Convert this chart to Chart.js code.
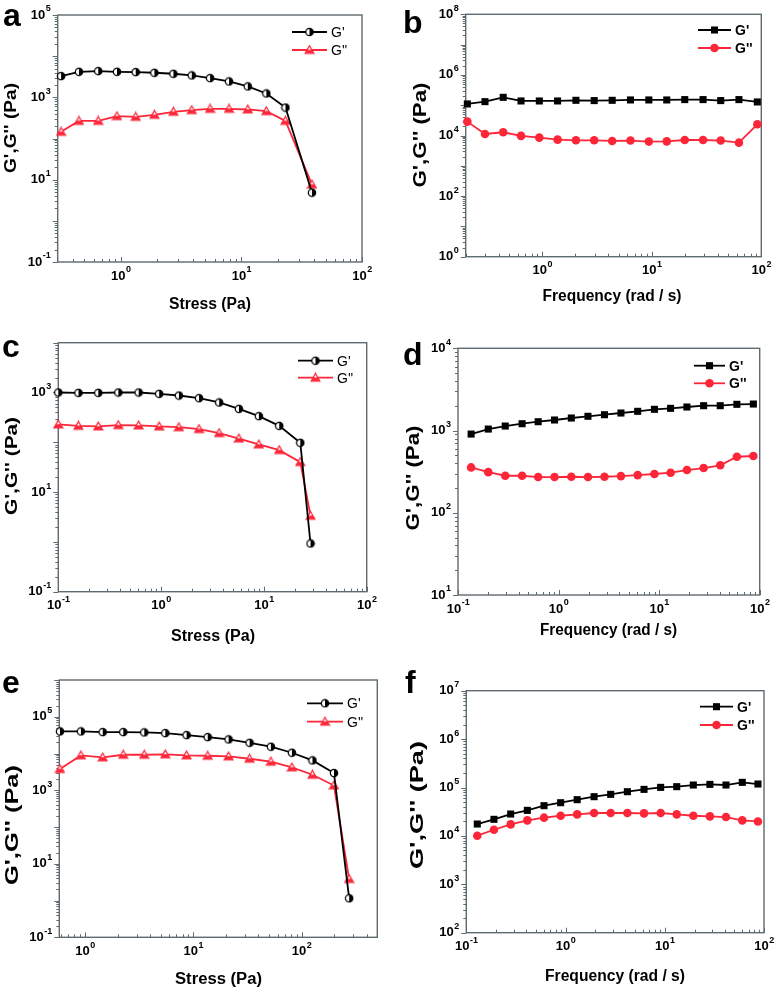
<!DOCTYPE html>
<html>
<head>
<meta charset="utf-8">
<script src="https://cdn.jsdelivr.net/npm/chart.js@4.4.1/dist/chart.umd.min.js"></script>
<style>
  html, body { margin: 0; padding: 0; background: #fff; }
  #page { position: relative; width: 776px; height: 992px; overflow: hidden; background: #fff; }
  #page canvas { position: absolute; }
</style>
</head>
<body>
<div id="page"></div>
<script>
// ---- values ----
// a: stress sweep
const stressA = [0.32, 0.45, 0.65, 0.93, 1.33, 1.9, 2.73, 3.88, 5.5, 7.9, 11.3, 16.1, 23.2, 38.5];
const gpA  = [3280, 4170, 4340, 4170, 4100, 3950, 3740, 3410, 2930, 2430, 1840, 1240, 566, 4.84];
const gppA = [145, 268, 268, 349, 336, 376, 445, 488, 526, 526, 507, 461, 268, 7.6];

// b: frequency sweep
const freqB = [0.207, 0.30, 0.44, 0.64, 0.94, 1.38, 2.03, 2.98, 4.35, 6.39, 9.4, 13.7, 20, 29.4, 42.6, 62.5, 92];
const gpB  = [1.1e5, 1.31e5, 1.82e5, 1.38e5, 1.38e5, 1.38e5, 1.45e5, 1.42e5, 1.45e5, 1.49e5, 1.49e5, 1.49e5, 1.53e5, 1.53e5, 1.42e5, 1.53e5, 1.28e5];
const gppB = [2.87e4, 1.12e4, 1.28e4, 9.7e3, 8.5e3, 7.3e3, 6.95e3, 6.95e3, 6.6e3, 6.8e3, 6.3e3, 6.4e3, 7.1e3, 7.1e3, 6.8e3, 5.8e3, 2.34e4];

// c: stress sweep
const stressC = [0.1, 0.157, 0.245, 0.384, 0.605, 0.957, 1.49, 2.34, 3.67, 5.71, 8.93, 14.1, 22.6, 28.4];
const gpC  = [1000, 985, 985, 1000, 1000, 940, 870, 769, 630, 470, 335, 214, 97.8, 0.93];
const gppC = [228, 214, 208, 221, 218, 208, 201, 184, 153, 119, 90.5, 69.7, 40, 3.35];

// d: frequency sweep
const freqD = [0.135, 0.2, 0.295, 0.434, 0.627, 0.912, 1.34, 1.96, 2.86, 4.17, 6.12, 8.98, 13, 18.9, 27.7, 40.5, 59.3, 86.5];
const gpD  = [906, 1042, 1134, 1210, 1280, 1343, 1420, 1490, 1557, 1633, 1713, 1811, 1862, 1932, 2004, 2004, 2084, 2100];
const gppD = [356, 312, 282, 282, 272, 272, 274, 272, 274, 279, 287, 296, 307, 331, 350, 378, 480, 490];

// e: stress sweep
const stressE = [0.588, 0.918, 1.46, 2.26, 3.53, 5.52, 8.68, 13.6, 21.2, 33.1, 52.1, 81.4, 126, 199, 275];
const gpE  = [39900, 39900, 38300, 38300, 37500, 36000, 31700, 28000, 24200, 19600, 15300, 10500, 6490, 2940, 1.15];
const gppE = [3780, 8880, 7830, 9250, 9250, 9450, 8880, 8690, 8330, 7210, 5980, 4190, 2640, 1350, 3.85];

// f: frequency sweep
const freqF = [0.129, 0.19, 0.28, 0.412, 0.607, 0.893, 1.31, 1.94, 2.85, 4.2, 6.18, 9.09, 13.2, 19.4, 28.5, 41.4, 60.4, 86.9];
const gpF  = [17600, 22000, 28300, 33700, 42100, 48500, 56000, 64600, 72200, 81900, 91500, 100700, 104000, 112500, 116000, 112500, 127700, 118000];
const gppF = [10100, 13400, 17300, 20900, 23800, 26100, 27800, 29700, 29700, 29700, 29200, 29700, 27800, 26100, 25300, 24500, 20900, 19900];

// labelled decades (exponents of 10) on each axis
const xExpA = [0, 1, 2],      yExpA = [-1, 1, 3, 5];
const xExpB = [0, 1, 2],      yExpB = [0, 2, 4, 6, 8];
const xExpC = [-1, 0, 1, 2],  yExpC = [-1, 1, 3];
const xExpD = [-1, 0, 1, 2],  yExpD = [1, 2, 3, 4];
const xExpE = [0, 1, 2],      yExpE = [-1, 1, 3, 5];
const xExpF = [-1, 0, 1, 2],  yExpF = [2, 3, 4, 5, 6, 7];

const seriesNames = ["G'", "G''"];
const stressTitle = 'Stress (Pa)';
const freqTitle = 'Frequency (rad / s)';
const yTitle = "G',G'' (Pa)";

const BLACK = '#000000';
const RED = '#fd2639';
const FRAME = '#5e6a70';
const FONT = '"Liberation Sans", Arial, sans-serif';

Chart.defaults.font.family = FONT;

// half filled circle (G' in stress sweeps)
function halfCircle() {
  const c = document.createElement('canvas');
  c.width = 10; c.height = 10;
  const g = c.getContext('2d');
  g.beginPath(); g.arc(5, 5, 3.7, 0, Math.PI * 2); g.fillStyle = '#fff'; g.fill();
  g.beginPath(); g.arc(5, 5, 3.7, -Math.PI / 2, Math.PI / 2); g.closePath(); g.fillStyle = BLACK; g.fill();
  g.beginPath(); g.arc(5, 5, 3.7, 0, Math.PI * 2); g.lineWidth = 1.2; g.strokeStyle = BLACK; g.stroke();
  return c;
}

// triangle with its lower half filled (G'' in stress sweeps)
function halfTriangle() {
  const c = document.createElement('canvas');
  c.width = 11; c.height = 11;
  const g = c.getContext('2d');
  const tri = () => { g.beginPath(); g.moveTo(5.5, 1.2); g.lineTo(9.8, 8.8); g.lineTo(1.2, 8.8); g.closePath(); };
  tri(); g.fillStyle = '#fff'; g.fill();
  g.save(); g.beginPath(); g.rect(0, 5.3, 11, 6); g.clip();
  tri(); g.fillStyle = RED; g.fill(); g.restore();
  tri(); g.lineWidth = 1.3; g.strokeStyle = RED; g.stroke();
  return c;
}

const circleImg = halfCircle();
const triImg = halfTriangle();

// page geometry of each panel (box = canvas, area = plot frame)
const panels = [
  { letter: 'a', box: [0, 0, 388, 330], area: [57.7, 15, 362, 262], xr: [0.32, 100], yr: [0.1, 1e5],
    xExp: xExpA, yExp: yExpA, x: stressA, g1: gpA, g2: gppA, open: true,
    xTitle: stressTitle, xt: [210, 305, 82], yt: [11.5, 128, 90, 17], lt: [3, 26], lg: [292, 32, 18, 35] },
  { letter: 'b', box: [388, 0, 388, 330], area: [465.7, 14.3, 761.3, 256.7], xr: [0.2, 100], yr: [1, 1e8],
    xExp: xExpB, yExp: yExpB, x: freqB, g1: gpB, g2: gppB, open: false,
    xTitle: freqTitle, xt: [612, 297, 139], yt: [421.5, 135, 105, 18], lt: [403, 33], lg: [698, 30, 18, 33] },
  { letter: 'c', box: [0, 330, 388, 330], area: [58.3, 342.7, 366.7, 591.7], xr: [0.1, 100], yr: [0.1, 1e4],
    xExp: xExpC, yExp: yExpC, x: stressC, g1: gpC, g2: gppC, open: true,
    xTitle: stressTitle, xt: [213, 636.5, 84], yt: [12, 466, 98, 17], lt: [2, 357], lg: [298, 360.7, 17, 35] },
  { letter: 'd', box: [388, 330, 388, 330], area: [458, 348.3, 759.7, 595], xr: [0.1, 100], yr: [10, 1e4],
    xExp: xExpD, yExp: yExpD, x: freqD, g1: gpD, g2: gppD, open: false,
    xTitle: freqTitle, xt: [608.5, 631, 137], yt: [414.5, 478, 105, 18], lt: [403, 365], lg: [694, 365.7, 17.6, 31] },
  { letter: 'e', box: [0, 660, 388, 332], area: [59.3, 680, 377.3, 937.3], xr: [0.58, 500], yr: [0.1, 1e6],
    xExp: xExpE, yExp: yExpE, x: stressE, g1: gpE, g2: gppE, open: true,
    xTitle: stressTitle, xt: [218.5, 980, 87], yt: [12.5, 825, 120, 19], lt: [2, 693], lg: [307, 703.3, 18.4, 36] },
  { letter: 'f', box: [388, 660, 388, 332], area: [466.3, 690.7, 764, 932.7], xr: [0.1, 100], yr: [100, 1e7],
    xExp: xExpF, yExp: yExpF, x: freqF, g1: gpF, g2: gppF, open: false,
    xTitle: freqTitle, xt: [615, 976.5, 140], yt: [418, 805, 128, 19], lt: [405, 693], lg: [700, 706.7, 18.3, 33] }
];

// minor + major tick values between min and max
function logTicks(min, max) {
  const out = [];
  for (let e = Math.floor(Math.log10(min)); e <= Math.ceil(Math.log10(max)); e++) {
    for (let k = 1; k <= 9; k++) {
      const v = k * Math.pow(10, e);
      if (v >= min * 0.999 && v <= max * 1.001) out.push({ v, major: k === 1 });
    }
  }
  return out;
}

// "10" with a raised exponent
function drawPow(ctx, exp, x, y, align) {
  const base = '10', sup = String(exp);
  ctx.font = 'bold 13px ' + FONT;
  const wb = ctx.measureText(base).width;
  ctx.font = 'bold 9px ' + FONT;
  const ws = ctx.measureText(sup).width;
  const x0 = align === 'right' ? x - wb - ws - 0.5 : x - (wb + ws) / 2;
  ctx.textAlign = 'left';
  ctx.textBaseline = 'middle';
  ctx.font = 'bold 13px ' + FONT;
  ctx.fillText(base, x0, y);
  ctx.font = 'bold 9px ' + FONT;
  ctx.fillText(sup, x0 + wb + 0.5, y - 6);
}

// text stretched / squeezed to a measured length
function fitText(ctx, text, cx, cy, len, size, rot) {
  ctx.save();
  ctx.font = 'bold ' + size + 'px ' + FONT;
  const w = ctx.measureText(text).width;
  ctx.translate(cx, cy);
  if (rot) ctx.rotate(-Math.PI / 2);
  ctx.scale(len / w, 1);
  ctx.textAlign = 'center';
  ctx.textBaseline = 'middle';
  ctx.fillStyle = BLACK;
  ctx.fillText(text, 0, 0);
  ctx.restore();
}

function axesPlugin(p) {
  const ox = p.box[0], oy = p.box[1];
  return {
    id: 'axes' + p.letter,
    beforeDatasetsDraw(chart) {
      const ctx = chart.ctx, a = chart.chartArea;
      const xs = chart.scales.x, ys = chart.scales.y;
      ctx.save();
      // frame
      ctx.strokeStyle = FRAME;
      ctx.lineWidth = 1.4;
      ctx.strokeRect(a.left, a.top, a.right - a.left, a.bottom - a.top);
      // ticks: bottom pointing in, left pointing out
      ctx.lineWidth = 1;
      logTicks(p.xr[0], p.xr[1]).forEach(t => {
        const px = Math.round(xs.getPixelForValue(t.v)) + 0.5;
        ctx.beginPath(); ctx.moveTo(px, a.bottom); ctx.lineTo(px, a.bottom - (t.major ? 5 : 3)); ctx.stroke();
      });
      logTicks(p.yr[0], p.yr[1]).forEach(t => {
        const py = Math.round(ys.getPixelForValue(t.v)) + 0.5;
        ctx.beginPath(); ctx.moveTo(a.left, py); ctx.lineTo(a.left - (t.major ? 5 : 3), py); ctx.stroke();
      });
      // tick labels
      ctx.fillStyle = BLACK;
      p.xExp.forEach(e => drawPow(ctx, e, xs.getPixelForValue(Math.pow(10, e)), a.bottom + 14, 'center'));
      p.yExp.forEach(e => drawPow(ctx, e, a.left - 7, ys.getPixelForValue(Math.pow(10, e)), 'right'));
      // axis titles
      fitText(ctx, p.xTitle, p.xt[0] - ox, p.xt[1] - oy, p.xt[2], 16, false);
      fitText(ctx, yTitle, p.yt[0] - ox, p.yt[1] - oy, p.yt[2], p.yt[3], true);
      // panel letter
      ctx.font = 'bold 32px ' + FONT;
      ctx.textAlign = 'left';
      ctx.textBaseline = 'alphabetic';
      ctx.fillText(p.letter, p.lt[0] - ox, p.lt[1] - oy);
      ctx.restore();
    },
    afterDraw(chart) {
      const ctx = chart.ctx;
      const [lx, ly, gap, len] = p.lg;
      ctx.save();
      chart.data.datasets.forEach((ds, i) => {
        const x0 = lx - ox, y0 = ly - oy + i * gap;
        ctx.strokeStyle = ds.borderColor;
        ctx.lineWidth = ds.borderWidth;
        ctx.beginPath(); ctx.moveTo(x0, y0); ctx.lineTo(x0 + len, y0); ctx.stroke();
        ctx.fillStyle = ds.backgroundColor;
        Chart.helpers.drawPoint(ctx, { pointStyle: ds.pointStyle, radius: ds.pointRadius, borderWidth: 0, rotation: 0 }, x0 + len / 2, y0);
        ctx.fillStyle = BLACK;
        ctx.font = (p.open ? '' : 'bold ') + '14px ' + FONT;
        ctx.textAlign = 'left';
        ctx.textBaseline = 'middle';
        ctx.fillText(seriesNames[i], x0 + len + 4, y0 + 1);
      });
      ctx.restore();
    }
  };
}

const pts = (xs, ys) => xs.map((x, i) => ({ x, y: ys[i] }));
const page = document.getElementById('page');

panels.forEach(p => {
  const [bx, by, bw, bh] = p.box;
  const [l, t, r, b] = p.area;
  const cv = document.createElement('canvas');
  cv.width = bw; cv.height = bh;
  cv.style.left = bx + 'px'; cv.style.top = by + 'px';
  cv.style.width = bw + 'px'; cv.style.height = bh + 'px';
  page.appendChild(cv);

  new Chart(cv, {
    type: 'line',
    data: {
      datasets: [
        { label: seriesNames[0], data: pts(p.x, p.g1), borderColor: BLACK, backgroundColor: BLACK,
          pointStyle: p.open ? circleImg : 'rect', pointRadius: p.open ? 4 : 5,
          pointBorderWidth: 0, borderWidth: 1.8, tension: 0, clip: false },
        { label: seriesNames[1], data: pts(p.x, p.g2), borderColor: RED, backgroundColor: RED,
          pointStyle: p.open ? triImg : 'circle', pointRadius: p.open ? 4 : 4.3,
          pointBorderWidth: 0, borderWidth: 1.8, tension: 0, clip: false }
      ]
    },
    options: {
      responsive: false,
      animation: false,
      devicePixelRatio: 1,
      events: [],
      layout: { padding: { left: l - bx, top: t - by, right: bx + bw - r, bottom: by + bh - b } },
      scales: {
        x: { type: 'logarithmic', display: false, min: p.xr[0], max: p.xr[1] },
        y: { type: 'logarithmic', display: false, min: p.yr[0], max: p.yr[1] }
      },
      plugins: { legend: { display: false }, tooltip: { enabled: false } }
    },
    plugins: [axesPlugin(p)]
  });
});
</script>
</body>
</html>
